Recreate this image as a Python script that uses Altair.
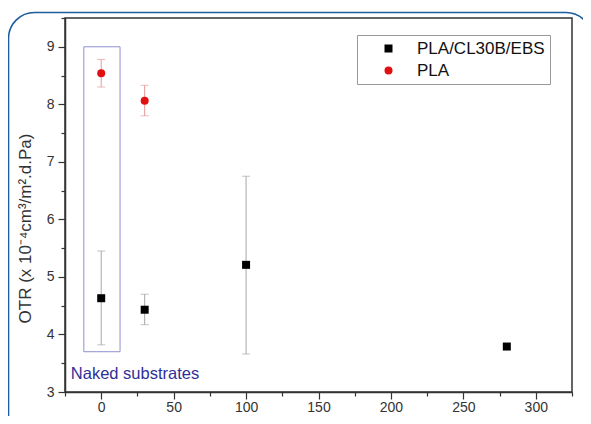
import altair as alt
import pandas as pd

# ---- data ----
series_names = ["PLA/CL30B/EBS", "PLA"]

comp_x = [0, 30, 100, 280]
comp_y = [4.63, 4.43, 5.21, 3.79]
comp_lo = [3.82, 4.17, 3.66, None]
comp_hi = [5.45, 4.70, 6.75, None]

pla_x = [0, 30]
pla_y = [8.54, 8.06]
pla_lo = [8.30, 7.80]
pla_hi = [8.78, 8.33]

x_ticks = [0, 50, 100, 150, 200, 250, 300]
x_minor = [-25, 25, 75, 125, 175, 225, 275, 325]
y_ticks = [3, 4, 5, 6, 7, 8, 9]
y_minor = [3.5, 4.5, 5.5, 6.5, 7.5, 8.5, 9.5]

box_x = [-12, 13]
box_y = [3.7, 9.0]
box_label = "Naked substrates"
box_label_pos = [-21, 3.23]

y_title = "OTR (x 10\u207b\u2074cm\u00b3/m\u00b2.d.Pa)"

rows = []
for x, y, lo, hi in zip(comp_x, comp_y, comp_lo, comp_hi):
    rows.append({"series": series_names[0], "x": x, "y": y, "lo": lo, "hi": hi})
for x, y, lo, hi in zip(pla_x, pla_y, pla_lo, pla_hi):
    rows.append({"series": series_names[1], "x": x, "y": y, "lo": lo, "hi": hi})
df = pd.DataFrame(rows)

xs = alt.Scale(domain=[-25, 325], nice=False, zero=False)
ys = alt.Scale(domain=[3, 9.5], nice=False, zero=False)

FONT = "Liberation Sans"

# decorative outer rounded frame
frame = alt.Chart(pd.DataFrame({"a": [0]})).mark_rect(
    fill="transparent", stroke="#1b5d9e", strokeWidth=1.6, cornerRadius=26
).encode(
    x=alt.value(-56.5), x2=alt.value(527), y=alt.value(-5.5), y2=alt.value(470)
)

box = alt.Chart(pd.DataFrame({"x1": [box_x[0]], "x2": [box_x[1]], "y1": [box_y[0]], "y2": [box_y[1]]})).mark_rect(
    fill="transparent", stroke="#8f8fd2", strokeWidth=1
).encode(
    x=alt.X("x1:Q", scale=xs, axis=None),
    x2="x2:Q",
    y=alt.Y("y1:Q", scale=ys, axis=None),
    y2="y2:Q",
)

label = alt.Chart(pd.DataFrame({"x": [box_label_pos[0]], "y": [box_label_pos[1]], "t": [box_label]})).mark_text(
    align="left", baseline="alphabetic", fontSize=16.5, font=FONT, color="#2f2f98"
).encode(
    x=alt.X("x:Q", scale=xs, axis=None),
    y=alt.Y("y:Q", scale=ys, axis=None),
    text="t:N",
)

def errbars(name, color):
    return alt.Chart(df).transform_filter(
        (alt.datum.series == name) & alt.expr.isValid(alt.datum.lo)
    ).mark_errorbar(ticks={"size": 8}, color=color, thickness=1).encode(
        x=alt.X("x:Q", scale=xs, axis=None),
        y=alt.Y("lo:Q", scale=ys, axis=None),
        y2="hi:Q",
    )

err_comp = errbars(series_names[0], "#a6a6a6")
err_pla = errbars(series_names[1], "#e59a9a")

points = alt.Chart(df).mark_point(filled=True, size=64, opacity=1).encode(
    x=alt.X("x:Q", scale=xs, axis=alt.Axis(
        values=x_ticks, title=None, grid=False, tickSize=7, labelFontSize=14,
        labelPadding=1, labelColor="#333", domainColor="#333", domainWidth=1.5,
        tickColor="#333", tickWidth=1.2, labelFont=FONT, orient="bottom",
    )),
    y=alt.Y("y:Q", scale=ys, axis=alt.Axis(
        values=y_ticks, title=y_title, grid=False, tickSize=7, labelFontSize=14,
        labelPadding=4, labelColor="#333", domainColor="#333", domainWidth=1.5,
        tickColor="#333", tickWidth=1.2, labelFont=FONT, titleFont=FONT,
        titleFontSize=17, titleFontWeight="normal", titleColor="#333",
        titleX=-40, titleY=210, titleAngle=270, titleAlign="center",
        titleBaseline="middle", orient="left",
    )),
    shape=alt.Shape("series:N", scale=alt.Scale(domain=series_names, range=["square", "circle"]), legend=None),
    color=alt.Color("series:N", scale=alt.Scale(domain=series_names, range=["#000000", "#e01010"]),
                    legend=alt.Legend(
                        title=None, orient="none", legendX=292, legendY=17,
                        strokeColor="#999", fillColor="white", padding=5,
                        labelFontSize=17, labelFont=FONT, labelColor="#111",
                        symbolSize=64, symbolOffset=18, labelOffset=20,
                        rowPadding=4, symbolStrokeWidth=0,
                    )),
)

minor = alt.Chart(df).mark_point(opacity=0).encode(
    x=alt.X("x:Q", scale=xs, axis=alt.Axis(
        values=x_minor, labels=False, domain=False, grid=False, tickSize=4,
        tickColor="#333", tickWidth=1.2, title=None, orient="bottom",
    )),
    y=alt.Y("y:Q", scale=ys, axis=alt.Axis(
        values=y_minor, labels=False, domain=False, grid=False, tickSize=4,
        tickColor="#333", tickWidth=1.2, title=None, orient="left",
    )),
)

chart = alt.layer(frame, box, label, err_comp, err_pla, minor, points).resolve_axis(
    x="independent", y="independent"
).properties(
    width=507, height=374,
    autosize=alt.AutoSizeParams(type="none"),
    padding={"left": 57, "top": 10, "right": 11, "bottom": 24},
    background="white",
).configure_view(stroke="#333", strokeWidth=1.5)

chart.save("out.html", embed_options={"renderer": "svg", "actions": False})
